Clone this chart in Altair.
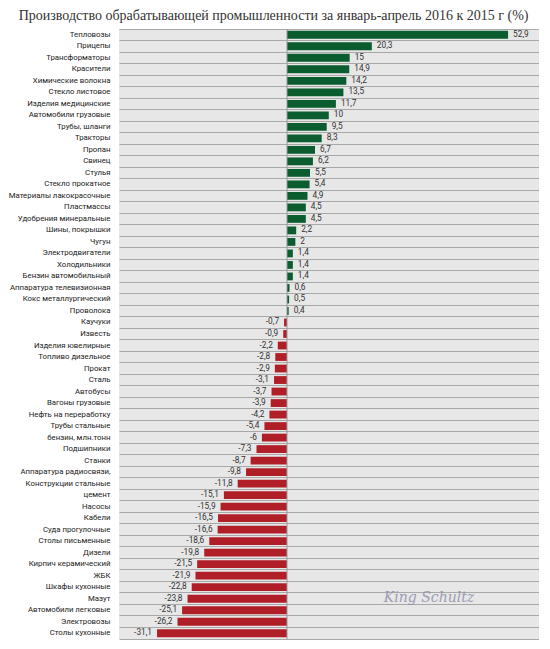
import altair as alt
import pandas as pd

categories = [
    "Тепловозы", "Прицепы", "Трансформаторы", "Красители", "Химические волокна",
    "Стекло листовое", "Изделия медицинские", "Автомобили грузовые", "Трубы, шланги",
    "Тракторы", "Пропан", "Свинец", "Стулья", "Стекло прокатное",
    "Материалы лакокрасочные", "Пластмассы", "Удобрения минеральные", "Шины, покрышки",
    "Чугун", "Электродвигатели", "Холодильники", "Бензин автомобильный",
    "Аппаратура телевизионная", "Кокс металлургический", "Проволока", "Каучуки",
    "Известь", "Изделия ювелирные", "Топливо дизельное", "Прокат", "Сталь",
    "Автобусы", "Вагоны грузовые", "Нефть на переработку", "Трубы стальные",
    "бензин, млн.тонн", "Подшипники", "Станки", "Аппаратура радиосвязи,",
    "Конструкции стальные", "цемент", "Насосы", "Кабели", "Суда прогулочные",
    "Столы письменные", "Дизели", "Кирпич керамический", "ЖБК", "Шкафы кухонные",
    "Мазут", "Автомобили легковые", "Электровозы", "Столы кухонные",
]
values = [
    52.9, 20.3, 15, 14.9, 14.2, 13.5, 11.7, 10, 9.5, 8.3, 6.7, 6.2, 5.5, 5.4,
    4.9, 4.5, 4.5, 2.2, 2, 1.4, 1.4, 1.4, 0.6, 0.5, 0.4, -0.7, -0.9, -2.2, -2.8,
    -2.9, -3.1, -3.7, -3.9, -4.2, -5.4, -6, -7.3, -8.7, -9.8, -11.8, -15.1,
    -15.9, -16.5, -16.6, -18.6, -19.8, -21.5, -21.9, -22.8, -23.8, -25.1,
    -26.2, -31.1,
]

df = pd.DataFrame({"cat": categories, "val": values})
df["label"] = [f"{v:g}".replace(".", ",") for v in values]
df["sign"] = ["pos" if v >= 0 else "neg" for v in values]

GREEN = "#0b5d2f"
RED = "#b01e27"
GRID = "#a8a8a8"
FONT = "Roboto"

xscale = alt.Scale(domain=[-40.2, 60.3], nice=False, zero=False)
yscale = alt.Scale(domain=categories, paddingInner=0, paddingOuter=0)

X = alt.X("val:Q", scale=xscale,
          axis=alt.Axis(title=None, labels=False, ticks=False, grid=False,
                        domain=True, domainColor=GRID, domainWidth=1))
Y = alt.Y("cat:N", scale=yscale, sort=categories,
          axis=alt.Axis(title=None, grid=True, bandPosition=0, gridColor=GRID,
                        gridWidth=1, ticks=False, domain=False, labelFont=FONT,
                        labelFontSize=7.8, labelColor="#222222", labelPadding=9,
                        labelLimit=200))

base = alt.Chart(df)

bars = base.mark_bar(height=alt.RelativeBandSize(0.68)).encode(
    x=X, y=Y,
    color=alt.Color("sign:N", scale=alt.Scale(domain=["pos", "neg"], range=[GREEN, RED]),
                    legend=None),
)

zero = alt.Chart(pd.DataFrame({"val": [0]})).mark_rule(color="#9a9a9a", strokeWidth=1).encode(
    x=X
)

pos_text = base.transform_filter("datum.val >= 0").mark_text(
    align="left", baseline="middle", dx=5, font=FONT, fontSize=8.3, color="#333333"
).encode(x=X, y=Y, text="label:N")
neg_text = base.transform_filter("datum.val < 0").mark_text(
    align="right", baseline="middle", dx=-5, font=FONT, fontSize=8.3, color="#333333"
).encode(x=X, y=Y, text="label:N")

watermark = alt.Chart(pd.DataFrame({"t": ["King Schultz"]})).mark_text(
    font="DejaVu Serif", fontStyle="italic", fontSize=14, color="#8a8aa8", opacity=0.8,
    align="center", baseline="middle"
).encode(x=alt.value(310), y=alt.value(569), text="t:N")

chart = alt.layer(bars, zero, pos_text, neg_text, watermark).properties(
    width=420,
    height=610,
    padding={"left": 0, "top": 0, "right": 0, "bottom": 0},
    title=alt.TitleParams(
        "Производство обрабатывающей промышленности за январь-апрель 2016 к 2015 г (%)",
        font="Liberation Serif", fontSize=14, fontWeight="normal", color="#333333",
        anchor="middle", frame="bounds", offset=6,
    ),
).configure_view(fill="#e7e7e7", stroke=None)

chart.save("out.html", embed_options={"renderer": "svg", "actions": False})
